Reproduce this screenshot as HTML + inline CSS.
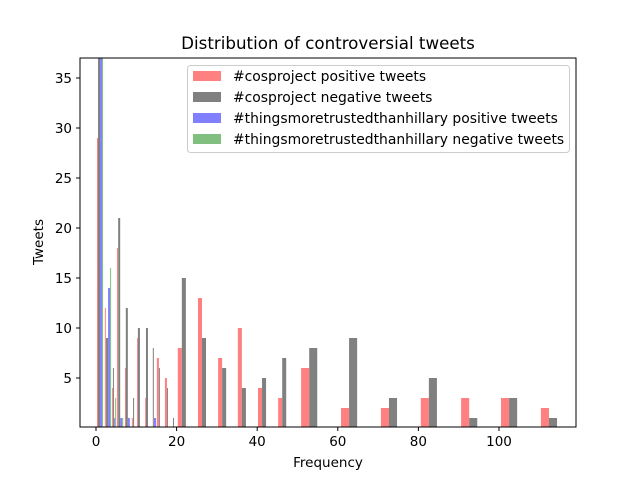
<!DOCTYPE html>
<html><head><meta charset="utf-8"><style>
body{margin:0;background:#fff;}
svg{display:block;font-family:"DejaVu Sans","Liberation Sans",sans-serif;}
</style></head><body>
<svg id="chart" width="640" height="480" xmlns="http://www.w3.org/2000/svg">
<rect width="640" height="480" fill="#fff"/>
<text x="328" y="49" font-size="16.7" text-anchor="middle">Distribution of controversial tweets</text>
<defs><clipPath id="plotclip"><rect x="80" y="58" width="496" height="369"/></clipPath></defs>
<g id="bars" clip-path="url(#plotclip)"></g>
<rect x="80" y="58" width="496" height="369" fill="none" stroke="#000" stroke-width="1"/>
<g id="axes"></g>
<text x="328" y="467" font-size="13.5" text-anchor="middle">Frequency</text>
<text x="0" y="0" font-size="13.5" text-anchor="middle" transform="translate(43,242) rotate(-90)">Tweets</text>
<g>
<rect x="187.5" y="65.5" width="382" height="87" rx="3" fill="#fff" fill-opacity="0.8" stroke="#ccc"/>
<rect x="193" y="71" width="28" height="10" fill="#ff8080"/>
<text x="233" y="81" font-size="13.9">#cosproject positive tweets</text>
<rect x="193" y="92" width="28" height="10" fill="#808080"/>
<text x="233" y="102" font-size="13.9">#cosproject negative tweets</text>
<rect x="193" y="113" width="28" height="10" fill="#8080ff"/>
<text x="233" y="123" font-size="13.9">#thingsmoretrustedthanhillary positive tweets</text>
<text x="233" y="144" font-size="13.9">#thingsmoretrustedthanhillary negative tweets</text>
<rect x="193" y="134" width="28" height="10" fill="#80bf80"/>
</g>
</svg>
<script>
const xTicks=[0,20,40,60,80,100];
const yTicks=[5,10,15,20,25,30,35];
const redX=[0.25,2.2,4,5.2,7.2,8.9,10.2,12.2,15.1,17.1,20.3,25.3,30.3,35.2,40.2,45.2,50.9,60.8,70.7,80.6,90.6,100.5,110.4];
const redW=[0.5,0.25,0.25,0.25,0.25,0.25,0.5,0.5,0.5,0.5,1,1,1,1,1,1,2,2,2,2,2,2,2];
const redH=[29,12,4,18,6,1,9,3,7,5,8,13,7,10,4,3,6,2,2,3,3,3,2];
const grayX=[0.5,2.5,4.2,5.5,7.4,9.2,10.4,12.4,14.1,15.6,17.6,19.1,21.3,26.3,31.3,36.2,41.2,46.2,52.9,62.8,72.7,82.6,92.6,102.5,112.4];
const grayW=[0.5,0.5,0.25,0.5,0.5,0.25,0.5,0.5,0.25,0.25,0.25,0.25,1,1,1,1,1,1,2,2,2,2,2,2,2];
const grayH=[60,9,6,21,12,3,10,10,8,6,4,1,15,9,6,4,5,7,8,9,3,5,1,3,1];
const blueX=[1,3,4.5,6,7.9,14.4];
const blueW=[0.5,0.5,0.25,0.5,0.5,0.5];
const blueH=[60,14,1,1,1,1];
const greenX=[1.5,3.5,4.75,6.5];
const greenW=[0.25,0.25,0.25,0.25];
const greenH=[60,16,3,1];
const NS='http://www.w3.org/2000/svg';
function xs(v){return 96+v*4.03;}
function ys(v){return 428-v*10.0;}
const bars=document.getElementById('bars');
function draw(X,W,H,color,name){
  for(let i=0;i<X.length;i++){
    const r=document.createElementNS(NS,'rect');
    const x0=xs(X[i]),x1=xs(X[i]+W[i]);
    r.setAttribute('x',x0);r.setAttribute('width',Math.max(0.8,x1-x0));
    r.setAttribute('y',ys(H[i]));r.setAttribute('height',ys(0)-ys(H[i]));
    r.setAttribute('fill',color);
    
    
    bars.appendChild(r);
  }
}
draw(redX,redW,redH,'#ff8080','cos-positive');
draw(grayX,grayW,grayH,'#808080','cos-negative');
draw(blueX,blueW,blueH,'#8080ff','hillary-positive');
draw(greenX,greenW,greenH,'#80bf80','hillary-negative');
const axes=document.getElementById('axes');
xTicks.forEach(t=>{
  const l=document.createElementNS(NS,'line');
  l.setAttribute('x1',xs(t));l.setAttribute('x2',xs(t));l.setAttribute('y1',427);l.setAttribute('y2',431);l.setAttribute('stroke','#000');
  
  
  axes.appendChild(l);
  const tx=document.createElementNS(NS,'text');
  tx.setAttribute('x',xs(t));tx.setAttribute('y',446);tx.setAttribute('font-size','13.5');tx.setAttribute('text-anchor','middle');
  tx.textContent=t;
  
  
  axes.appendChild(tx);
});
yTicks.forEach(t=>{
  const l=document.createElementNS(NS,'line');
  l.setAttribute('x1',76);l.setAttribute('x2',80);l.setAttribute('y1',ys(t));l.setAttribute('y2',ys(t));l.setAttribute('stroke','#000');
  
  
  axes.appendChild(l);
  const tx=document.createElementNS(NS,'text');
  tx.setAttribute('x',72);tx.setAttribute('y',ys(t)+5);tx.setAttribute('font-size','13.5');tx.setAttribute('text-anchor','end');
  tx.textContent=t;
  
  
  axes.appendChild(tx);
});
</script>
</body></html>
